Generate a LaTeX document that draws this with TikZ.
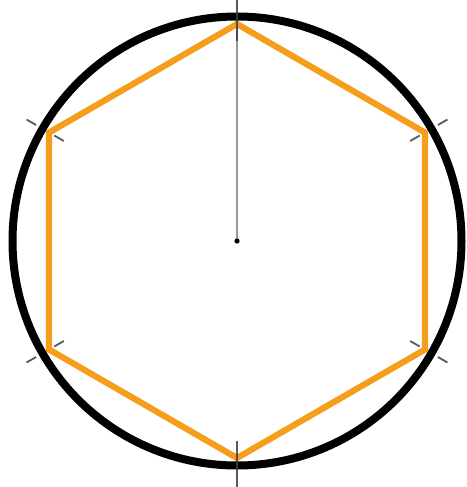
\documentclass[tikz,border=0pt]{standalone}
\begin{document}
\definecolor{hexorange}{RGB}{245,158,28}
\definecolor{tickgray}{RGB}{60,60,70}
\begin{tikzpicture}[x=1pt,y=-1pt,
  rim/.style={line width=8pt,black},
  hexline/.style={line width=6.2pt,hexorange,line join=miter},
  tickmark/.style={line width=1.8pt,tickgray,opacity=0.85},
  radiusline/.style={line width=1.2pt,gray!80}]
\useasboundingbox (0,0) rectangle (466,487);
\coordinate (C) at (237,241);
\coordinate (T) at (237,24);
% hexagon
\draw[hexline,shift={(C)}] (90:217pt) -- (150:217pt) -- (210:217pt) -- (270:217pt) -- (330:217pt) -- (30:217pt) -- cycle;
% radius line and centre
\draw[radiusline] (C) -- (T);
\fill[black] (C) circle[radius=2.6pt];
% circle
\draw[rim] (C) circle[radius=224.5pt];
% construction ticks
\foreach \a in {90,270}{
  \draw[tickmark,shift={(C)}] (\a:200pt) -- (\a:246pt);
}
\foreach \a in {30,150,210,330}{
  \draw[tickmark,shift={(C)}] (\a:200pt) -- (\a:211pt);
  \draw[tickmark,shift={(C)}] (\a:232pt) -- (\a:243pt);
}
\end{tikzpicture}
\end{document}
